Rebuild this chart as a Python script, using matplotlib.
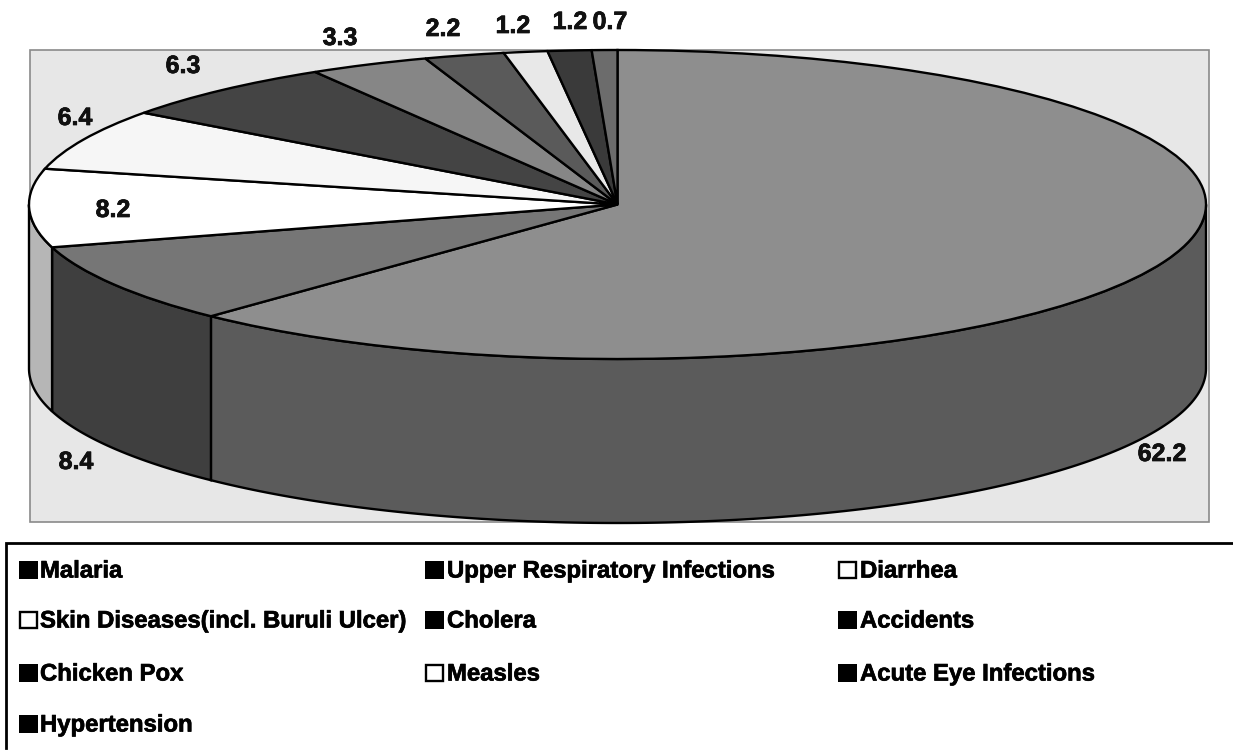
import numpy as np
import matplotlib
matplotlib.use("Agg")
import matplotlib.pyplot as plt
import matplotlib.patheffects as pe
from matplotlib.patches import Rectangle, Polygon

# ---- data ----
diseases = ["Malaria", "Upper Respiratory Infections", "Diarrhea",
            "Skin Diseases(incl. Buruli Ulcer)", "Cholera", "Accidents",
            "Chicken Pox", "Measles", "Acute Eye Infections", "Hypertension"]
shares = [62.2, 8.4, 8.2, 6.4, 6.3, 3.3, 2.2, 1.2, 1.2, 0.7]

# ---- styles ----
top_colors = ["#8e8e8e", "#767676", "#ffffff", "#f6f6f6", "#444444",
              "#868686", "#5a5a5a", "#e8e8e8", "#3a3a3a", "#6c6c6c"]
wall_colors = ["#5b5b5b", "#3f3f3f", "#b6b6b6"]
hollow = [False, False, True, True, False, False, False, True, False, False]
label_xy = [(1162, 454), (76, 462), (113, 210), (75, 118), (183, 66),
            (340, 38), (443, 29), (513, 26), (570, 22), (610, 22)]
legend_cols = [(19, 40), (425, 447), (838, 860)]
legend_rows = [570, 620, 673, 724]
FONT = ["Liberation Sans", "DejaVu Sans"]
HEAVY = [pe.withStroke(linewidth=0.5, foreground="black")]

W, H = 1233, 751
fig = plt.figure(figsize=(W / 100, H / 100), dpi=100, facecolor="white")

bg = fig.add_axes([0, 0, 1, 1], zorder=0)
bg.set_xlim(0, W); bg.set_ylim(H, 0); bg.axis("off")
bg.add_patch(Rectangle((30, 50), 1179, 472, facecolor="#e7e7e7",
                       edgecolor="#8a8a8a", lw=1.2))

# top ellipse occupies this box; data unit = one radius
L, R, T, B = 29, 1206, 50, 359
ax = fig.add_axes([L / W, 1 - B / H, (R - L) / W, (B - T) / H], zorder=1)
ax.pie(shares, colors=top_colors, startangle=90, counterclock=False, radius=1,
       wedgeprops=dict(edgecolor="black", linewidth=1.7, clip_on=False))
ax.set_aspect("auto")
ax.set_xlim(-1, 1); ax.set_ylim(-1, 1)
ax.axis("off")

# side wall of the pie for the front half
depth = 164 / ((B - T) / 2)
edges = np.cumsum([0] + shares) / sum(shares) * 360
for i, colour in enumerate(wall_colors):
    a0 = max(edges[i], 90)
    a1 = min(edges[i + 1], 270)
    t = np.radians(np.linspace(a0, a1, 150))
    x, y = np.sin(t), np.cos(t)
    pts = np.r_[np.c_[x, y], np.c_[x, y - depth][::-1]]
    ax.add_patch(Polygon(pts, closed=True, facecolor=colour, edgecolor="black",
                         linewidth=1.7, clip_on=False, zorder=0.5))

fg = fig.add_axes([0, 0, 1, 1], zorder=2)
fg.set_xlim(0, W); fg.set_ylim(H, 0); fg.axis("off")
fg.patch.set_alpha(0)

for v, (px, py) in zip(shares, label_xy):
    fg.text(px, py, f"{v:.1f}", ha="center", va="center", fontsize=18,
            fontweight="bold", family=FONT, color="#111111", path_effects=HEAVY)

# legend box: open at the bottom and right
fg.plot([6, 6, W], [748, 543, 543], color="black", lw=2, solid_joinstyle="miter")
for i, name in enumerate(diseases):
    (sx, tx) = legend_cols[i % 3]
    ry = legend_rows[i // 3]
    if hollow[i]:
        fg.add_patch(Rectangle((sx + 1, ry - 8), 17, 16, facecolor="white",
                               edgecolor="black", lw=1.7))
    else:
        fg.add_patch(Rectangle((sx, ry - 9), 19, 18, facecolor="black",
                               edgecolor="none"))
    fg.text(tx, ry + 1, name, ha="left", va="center", fontsize=17.2,
            fontweight="bold", family=FONT, color="black", path_effects=HEAVY)

fig.savefig("out.png", dpi=100)
